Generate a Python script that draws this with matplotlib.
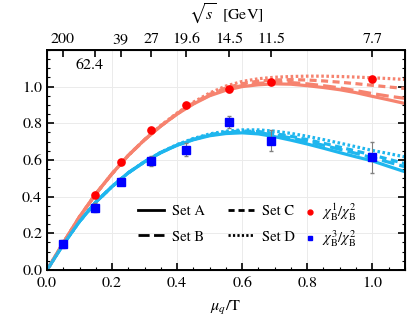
import numpy as np
import matplotlib
matplotlib.use("Agg")
import matplotlib.pyplot as plt

plt.rcParams['font.family'] = ['STIXGeneral', 'DejaVu Serif']
plt.rcParams['mathtext.fontset'] = 'stix'

# model curves, sampled every 0.05 in mu_q/T
mu = [0.0, 0.05, 0.1, 0.15, 0.2, 0.25, 0.3, 0.35, 0.4, 0.45, 0.5, 0.55,
      0.6, 0.65, 0.7, 0.75, 0.8, 0.85, 0.9, 0.95, 1.0, 1.05, 1.1]

r12_A = [0.0, 0.148, 0.29, 0.415, 0.525, 0.625, 0.71, 0.785, 0.85, 0.905, 0.95, 0.98,
         1.0, 1.01, 1.015, 1.013, 1.005, 0.995, 0.983, 0.967, 0.947, 0.928, 0.908]
r12_B = [0.0, 0.148, 0.29, 0.415, 0.525, 0.625, 0.71, 0.785, 0.851, 0.907, 0.953, 0.985,
         1.006, 1.018, 1.023, 1.022, 1.015, 1.005, 0.993, 0.978, 0.962, 0.948, 0.936]
r12_C = [0.0, 0.148, 0.29, 0.415, 0.525, 0.625, 0.71, 0.786, 0.853, 0.91, 0.958, 0.993,
         1.016, 1.03, 1.036, 1.038, 1.036, 1.031, 1.024, 1.016, 1.007, 0.998, 0.99]
r12_D = [0.0, 0.148, 0.29, 0.415, 0.525, 0.625, 0.711, 0.788, 0.856, 0.915, 0.965, 1.003,
         1.028, 1.043, 1.051, 1.055, 1.057, 1.057, 1.055, 1.052, 1.048, 1.044, 1.039]

r32_A = [0.0, 0.14, 0.265, 0.37, 0.455, 0.53, 0.59, 0.64, 0.68, 0.71, 0.732, 0.744,
         0.748, 0.742, 0.727, 0.708, 0.687, 0.664, 0.64, 0.617, 0.595, 0.565, 0.536]
r32_B = [0.0, 0.14, 0.265, 0.37, 0.455, 0.53, 0.59, 0.64, 0.681, 0.712, 0.735, 0.748,
         0.753, 0.749, 0.736, 0.72, 0.701, 0.68, 0.658, 0.636, 0.612, 0.588, 0.563]
r32_C = [0.0, 0.14, 0.265, 0.37, 0.455, 0.53, 0.59, 0.641, 0.682, 0.714, 0.738, 0.752,
         0.758, 0.755, 0.744, 0.729, 0.711, 0.691, 0.67, 0.649, 0.627, 0.604, 0.58]
r32_D = [0.0, 0.14, 0.265, 0.37, 0.455, 0.53, 0.591, 0.642, 0.684, 0.717, 0.742, 0.757,
         0.764, 0.764, 0.757, 0.745, 0.729, 0.711, 0.692, 0.672, 0.652, 0.635, 0.617]

# STAR data points
x_pts = [0.049, 0.148, 0.226, 0.321, 0.427, 0.56, 0.69, 1.0]
chi12 = [0.14, 0.407, 0.59, 0.762, 0.898, 0.985, 1.024, 1.04]
chi12_err = [0.005, 0.008, 0.008, 0.008, 0.01, 0.012, 0.012, 0.015]
chi32 = [0.14, 0.34, 0.481, 0.594, 0.655, 0.808, 0.705, 0.615]
chi32_err = [0.022, 0.025, 0.018, 0.027, 0.035, 0.032, 0.058, 0.085]

energies = ['200', '', '39', '27', '19.6', '14.5', '11.5', '7.7']

red = '#F6836F'
blue = '#1EB6EE'

fig = plt.figure(figsize=(4.07, 3.18), dpi=100)
ax = fig.add_axes([0.1155, 0.151, 0.879, 0.692])

styles = {'A': '-', 'B': (0, (4.0, 1.6)), 'C': (0, (2.2, 1.4)), 'D': (0, (0.8, 0.8))}
lw = 2.3
for key, yr, yb in [('A', r12_A, r32_A), ('B', r12_B, r32_B),
                    ('C', r12_C, r32_C), ('D', r12_D, r32_D)]:
    ax.plot(mu, yr, color=red, lw=lw, ls=styles[key], zorder=2)
    ax.plot(mu, yb, color=blue, lw=lw, ls=styles[key], zorder=2)

ax.errorbar(x_pts, chi12, yerr=chi12_err, fmt='o', color='#FF0000', ms=5.2,
            ecolor='gray', elinewidth=0.8, capsize=1.5, zorder=4)
ax.errorbar(x_pts, chi32, yerr=chi32_err, fmt='s', color='#0000FF', ms=5.6,
            ecolor='gray', elinewidth=0.8, capsize=1.5, zorder=5)

# legends: line styles and data markers
h_sets = [plt.Line2D([], [], color='k', lw=2.0, ls=styles[k], label=f'Set {k}')
          for k in ['A', 'B', 'C', 'D']]
h_pts = [plt.Line2D([], [], color='#FF0000', marker='o', ls='', ms=3.5,
                    label=r'$\chi^1_{\rm B}/\chi^2_{\rm B}$'),
         plt.Line2D([], [], color='#0000FF', marker='s', ls='', ms=3.5,
                    label=r'$\chi^3_{\rm B}/\chi^2_{\rm B}$')]
leg1 = ax.legend(handles=h_sets, ncol=2, frameon=False, fontsize=10.5, loc='upper left',
                 bbox_to_anchor=(0.255, 0.295), handlelength=1.75, columnspacing=1.6,
                 labelspacing=0.8, handletextpad=0.55, borderpad=0, borderaxespad=0)
ax.add_artist(leg1)
ax.legend(handles=h_pts, ncol=1, frameon=False, fontsize=10.5, loc='upper left',
          bbox_to_anchor=(0.72, 0.31), handlelength=0.8, labelspacing=0.35,
          handletextpad=0.4, borderpad=0, borderaxespad=0)

ax.set_xlim(0, 1.1)
ax.set_ylim(0, 1.2)
ax.set_xticks([0.0, 0.2, 0.4, 0.6, 0.8, 1.0])
ax.set_yticks([0.0, 0.2, 0.4, 0.6, 0.8, 1.0])
ax.set_xticks(np.arange(0, 1.11, 0.05), minor=True)
ax.set_yticks(np.arange(0, 1.21, 0.05), minor=True)
ax.tick_params(which='both', direction='in', right=True, labelsize=11.5)
ax.tick_params(which='major', length=5, width=1.2)
ax.tick_params(which='minor', length=2.5, width=0.8)
ax.tick_params(axis='x', which='both', top=False, pad=5)
ax.grid(True, which='major', color='#EBEBEB', lw=0.7)
for s in ax.spines.values():
    s.set_linewidth(1.4)
ax.set_xlabel(r'$\mu_q$/T', fontsize=11.5, labelpad=6)

top = ax.twiny()
top.set_xlim(ax.get_xlim())
top.set_xticks(x_pts)
top.set_xticklabels(energies)
top.tick_params(direction='in', length=5, width=1.2, labelsize=11.5, pad=3)
top.set_xlabel(r'$\sqrt{s}$  [GeV]', fontsize=11.5, labelpad=9)
ax.text(0.13, 1.115, '62.4', fontsize=11.5, ha='center', va='center')

fig.savefig('out.png', dpi=100)
